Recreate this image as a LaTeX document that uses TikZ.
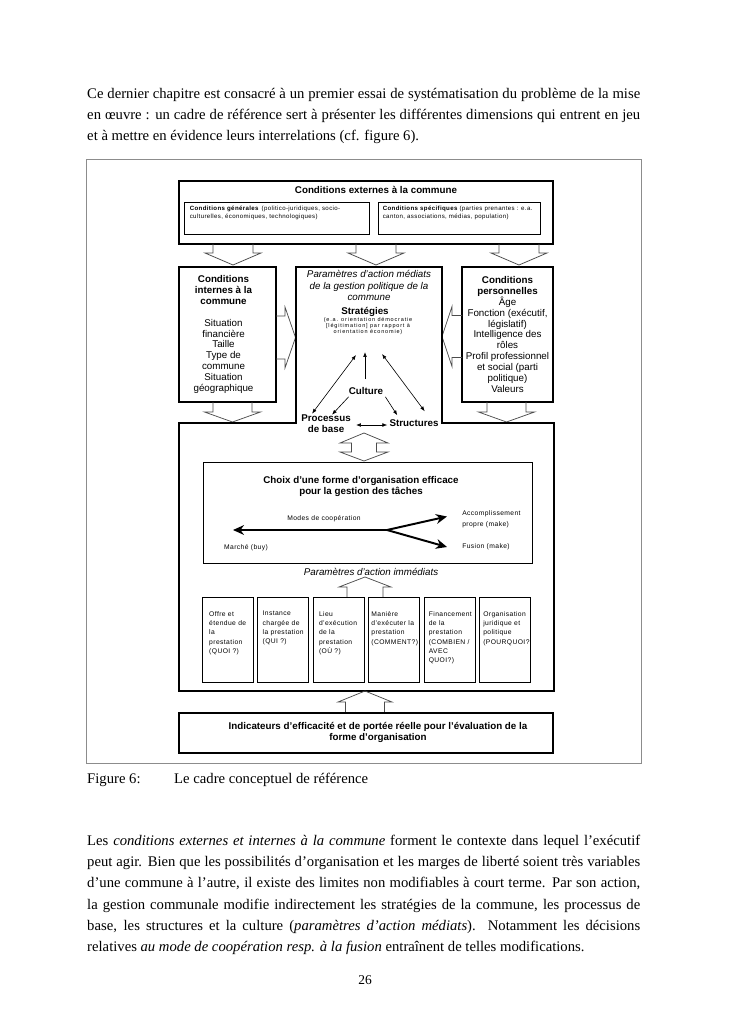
\documentclass[tikz,border=0pt]{standalone}
\usepackage{fontspec}
\setmainfont{Liberation Serif}
\newfontfamily\diagfont{Liberation Sans}
\newfontfamily\tinyfont[LetterSpace=6]{Liberation Sans}
\newfontfamily\widefont[LetterSpace=15]{Liberation Sans}
\usetikzlibrary{arrows.meta, positioning, calc}

\newlength\bodywidth
\setlength\bodywidth{452pt}
\newcommand\pxl{0.8174pt}
% open block arrows
\newcommand\blockv[6]{%
  \draw[blk] (#1-#5,#2) -- (#1-#5,#3) -- (#1-#6,#3) -- (#1,#4)
    -- (#1+#6,#3) -- (#1+#5,#3) -- (#1+#5,#2);}
\newcommand\blockh[6]{%
  \draw[blk] (#2,#1-#5) -- (#3,#1-#5) -- (#3,#1-#6) -- (#4,#1)
    -- (#3,#1+#6) -- (#3,#1+#5) -- (#2,#1+#5);}

\begin{document}
\begin{tikzpicture}[
    x=0.8174pt, y=-0.8174pt,
    box/.style={draw, line width=0.9pt, inner sep=0pt},
    thinbox/.style={draw, line width=0.7pt, inner sep=0pt},
    lbl/.style={font=\diagfont\fontsize{8}{8.9}\selectfont, align=center,
                inner sep=0pt},
    hd/.style={lbl, font=\diagfont\bfseries\fontsize{8}{9.2}\selectfont},
    it/.style={lbl, font=\diagfont\itshape\fontsize{8}{9.3}\selectfont},
    note/.style={font=\tinyfont\fontsize{5.5}{7.6}\selectfont, align=left,
                 inner sep=0pt},
    toptxt/.style={font=\tinyfont\fontsize{5}{6.5}\selectfont, align=left,
                   inner sep=0pt, anchor=west},
    body/.style={font=\fontsize{12}{14}\selectfont, inner sep=0pt,
                 anchor=base west},
    blk/.style={draw=black!70, line width=0.6pt},
    arr/.style={-{Latex[length=4pt,width=3pt]}, line width=0.5pt},
    duo/.style={{Latex[length=4pt,width=3pt]}-{Latex[length=4pt,width=3pt]},
                line width=0.5pt},
    bold/.style={-{Stealth[length=9pt,width=8pt]}, line width=1.6pt}
  ]
  \fill[white] (0,0) rectangle (728,1030);
  % Text above the figure
  \foreach \ln [count=\i] in {
      {\makebox[\bodywidth][s]{Ce dernier chapitre est consacré à un premier essai de systématisation du problème de la mise}},
      {\makebox[\bodywidth][s]{en œuvre : un cadre de référence sert à présenter les différentes dimensions qui entrent en jeu}},
      {et à mettre en évidence leurs interrelations (cf. figure 6).}} {
    \node[body] (top\i) at (87, 98.5+21.2*\i-21.2) {\ln};
  }
  % Figure frame
  \draw[black!45, line width=0.8pt] (86,159) rectangle (641,763);
  % Conditions externes
  \node[box, minimum width=374*\pxl, minimum height=63*\pxl] (ext) at (366,212.5) {};
  \node[hd] (exttitle) at (376,190) {Conditions externes à la commune};
  \node[thinbox, minimum width=185*\pxl, minimum height=32*\pxl] (gen) at (276.5,218) {};
  \node[thinbox, minimum width=162*\pxl, minimum height=32*\pxl] (spec) at (459,218) {};
  \node[toptxt] (gentxt) at ($(gen.west)+(6,-5)$)
    {{\bfseries Conditions générales}\enspace(politico-juridiques, socio-\\culturelles, économiques, technologiques)};
  \node[toptxt] (spectxt) at ($(spec.west)+(5,-5)$)
    {{\bfseries Conditions spécifiques} (parties prenantes : e.a.\\canton, associations, médias, population)};
  \foreach \cx in {233,376,519} {\blockv{\cx}{244}{253}{265}{20}{28}}
  % Conditions internes
  \node[box, minimum width=97*\pxl, minimum height=135*\pxl] (int) at (227.5,334.5) {};
  \node[lbl] (inttxt) at ($(int.center)+(-4,0)$)
    {\textbf{Conditions}\\\textbf{internes à la}\\\textbf{commune}\\[8.9pt]Situation\\financière\\Taille\\Type de\\commune\\Situation\\géographique};
  % Conditions personnelles
  \node[box, minimum width=91*\pxl, minimum height=135*\pxl] (pers) at (507.5,334.5) {};
  \node[lbl] (perstxt) at (pers.center)
    {\textbf{Conditions}\\\textbf{personnelles}\\Âge\\Fonction (exécutif,\\législatif)\\Intelligence des\\rôles\\Profil professionnel\\et social (parti\\politique)\\Valeurs};
  \blockh{337.5}{276}{285}{295.5}{21.5}{30.5}
  \blockh{336.5}{462}{452}{442}{21}{30}
  \blockv{232.5}{402}{412}{422}{19.5}{28}
  \blockv{506.5}{402}{412}{422}{19.5}{28}
  % Parametres mediats and main frame
  \draw[line width=1.3pt] (179,423) -- (296,423) -- (296,267) -- (442,267)
    -- (442,423) -- (554,423) -- (554,691) -- (179,691) -- cycle;
  \node[it] (medtitle) at (369,285.5)
    {Paramètres d’action médiats\\de la gestion politique de la\\commune};
  \node[hd] (strat) at (365,312) {Stratégies};
  \node[font=\widefont\fontsize{4.5}{4.2}\selectfont, align=center, inner sep=0pt]
    (stratnote) at (368,326)
    {(e.a. orientation démocratie\\{[}légitimation{]} par rapport à\\orientation économie)};
  \node[hd] (cult) at (366,391) {Culture};
  \node[hd] (proc) at (326,424) {Processus\\de base};
  \node[hd] (struc) at (414,423) {Structures};
  \coordinate (sL) at (356,355);
  \coordinate (sM) at (365,352);
  \coordinate (sR) at (382,354);
  \draw[arr] ($(cult.north)+(-1,-8)$) -- (sM);
  \draw[duo] ($(proc.north west)+(11,-1)$) -- (sL);
  \draw[duo] ($(struc.north east)+(-14,-8)$) -- (sR);
  \draw[arr] ($(cult.south west)+(0,2)$) -- ($(proc.north east)+(-19,0)$);
  \draw[arr] ($(cult.south east)+(2,2)$) -- ($(struc.north west)+(8,-4)$);
  \draw[duo] ($(proc.east)+(5,1)$) -- ($(struc.west)+(-2,2)$);
  \draw[blk] (364,433) -- (388,443) -- (376.5,443) -- (376.5,452) -- (388,452)
    -- (364,461) -- (340,452) -- (351.5,452) -- (351.5,443) -- (340,443) -- cycle;
  % Choix
  \node[thinbox, minimum width=329*\pxl, minimum height=101*\pxl] (choix) at (367.5,512.5) {};
  \node[hd] (choixtitle) at (361,486.5)
    {Choix d’une forme d’organisation efficace\\pour la gestion des tâches};
  \node[note] (modes) at (324,519) {Modes de coopération};
  \node[note, anchor=west, font=\tinyfont\fontsize{5.5}{8.7}\selectfont] (make) at (462,519.5)
    {Accomplissement\\propre (make)};
  \node[note, anchor=west] (fus) at (462,547) {Fusion (make)};
  \node[note] (buy) at (246,548) {Marché (buy)};
  \coordinate (fork) at (387,530);
  \coordinate (buyend) at (233,530);
  \draw[bold] (fork) -- (buyend);
  \draw[bold] (fork) -- ($(make.west)+(-15,-3)$);
  \draw[bold] (fork) -- ($(fus.west)+(-15,0)$);
  \node[it] (immed) at (371,572) {Paramètres d’action immédiats};
  \blockv{365}{597}{587}{577}{18}{26}
  % Parametres immediats
  \foreach \i/\dx/\txt in {0/7/{Offre et\\étendue de\\la\\prestation\\(QUOI ?)},
                           1/5/{Instance\\chargée de\\la prestation\\(QUI ?)},
                           2/6/{Lieu\\d’exécution\\de la\\prestation\\(OÙ ?)},
                           3/3/{Manière\\d’exécuter la\\prestation\\(COMMENT?)},
                           4/5/{Financement\\de la\\prestation\\(COMBIEN /\\AVEC\\QUOI?)},
                           5/4/{Organisation\\juridique et\\politique\\(POURQUOI?}} {
    \node[thinbox, minimum width=51*\pxl, minimum height=85*\pxl, anchor=north west]
      (b\i) at (202+55.4*\i, 597) {};
    \node[note, anchor=north west] (t\i) at ($(b\i.north west)+(\dx,14)$) {\txt};
  }
  % Indicateurs
  \blockv{365}{713}{702}{691}{19.5}{27}
  \node[box, minimum width=374*\pxl, minimum height=40*\pxl] (ind) at (366,733) {};
  \node[hd] (indtxt) at (378,732.5)
    {Indicateurs d’efficacité et de portée réelle pour l’évaluation de la\\forme d’organisation};
  % Caption and text below
  \node[body] (figno) at (87,783) {Figure 6:};
  \node[body] (figcap) at (174,783) {Le cadre conceptuel de référence};
  \foreach \ln [count=\i] in {
      {\makebox[\bodywidth][s]{Les \textit{conditions externes et internes à la commune} forment le contexte dans lequel l’exécutif}},
      {\makebox[\bodywidth][s]{peut agir. Bien que les possibilités d’organisation et les marges de liberté soient très variables}},
      {\makebox[\bodywidth][s]{d’une commune à l’autre, il existe des limites non modifiables à court terme. Par son action,}},
      {\makebox[\bodywidth][s]{la gestion communale modifie indirectement les stratégies de la commune, les processus de}},
      {\makebox[\bodywidth][s]{base, les structures et la culture (\textit{paramètres d’action médiats}). Notamment les décisions}},
      {relatives \textit{au mode de coopération resp. à la fusion} entraînent de telles modifications.}} {
    \node[body] (low\i) at (87, 845.5+21.2*\i-21.2) {\ln};
  }
  \node[font=\fontsize{11}{13}\selectfont, inner sep=0pt] (pageno) at (365,980) {26};
\end{tikzpicture}
\end{document}
